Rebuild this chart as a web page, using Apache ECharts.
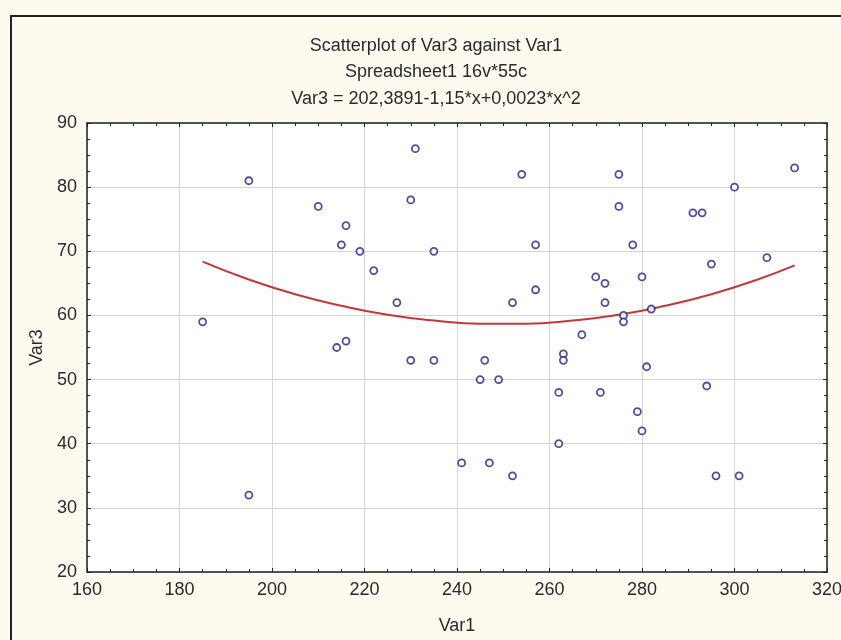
<!DOCTYPE html>
<html>
<head>
<meta charset="utf-8">
<script src="https://cdn.jsdelivr.net/npm/echarts@6/dist/echarts.min.js"></script>
<style>
html,body{margin:0;padding:0;background:#fdfbf0;}
#frame{position:absolute;left:10px;top:15px;width:840px;height:640px;border-left:2px solid #222;border-top:2px solid #222;box-sizing:border-box;}
#c{position:absolute;left:0;top:0;width:841px;height:640px;}
</style>
</head>
<body>
<div id="frame"></div>
<div id="c"></div>
<script>
// Scatter data (Var1, Var3)
const var1 = [185,195,195,210,214,215,216,216,219,222,227,230,230,231,235,235,241,245,246,247,249,252,252,254,257,257,262,262,263,263,267,270,271,272,272,275,275,276,276,278,279,280,280,281,282,291,293,294,295,296,300,301,307,313];
const var3 = [59,81,32,77,55,71,74,56,70,67,62,78,53,86,70,53,37,50,53,37,50,62,35,82,71,64,48,40,54,53,57,66,48,65,62,82,77,60,59,71,45,66,42,52,61,76,76,49,68,35,80,35,69,83];
// Fitted curve values
const fitX = [185,195,205,215,225,235,245,255,265,275,285,295,305,313];
const fitY = [68.4,65.6,63.3,61.5,60.1,59.2,58.7,58.7,59.2,60.1,61.5,63.3,65.6,67.8];
const xTicks = [160,180,200,220,240,260,280,300,320];
const yTicks = [20,30,40,50,60,70,80,90];
const titleLines = ['Scatterplot of Var3 against Var1','Spreadsheet1 16v*55c','Var3 = 202,3891-1,15*x+0,0023*x^2'];

const chart = echarts.init(document.getElementById('c'), null, {renderer:'canvas'});
const font = 'Arial, "Liberation Sans", sans-serif';
const txt = '#2a2a2a';
const baseAxis = {
  axisLine:{show:true, lineStyle:{color:'#222', width:1.5}},
  axisTick:{show:true, inside:true, length:4, lineStyle:{color:'#222'}},
  minorTick:{show:true, splitNumber:4, length:3, lineStyle:{color:'#222'}},
};
chart.setOption({
  backgroundColor:'transparent',
  animation:false,
  title: titleLines.map((t,i)=>({
    text:t, left:431, top:[32,58,85][i], textAlign:'center',
    textStyle:{fontFamily:font, fontSize:18, fontWeight:'normal', color:txt}
  })),
  grid:{left:87, right:14, top:123, bottom:68, show:true, backgroundColor:'#ffffff', borderWidth:0, outerBoundsMode:'none', containLabel:false},
  xAxis:[
    Object.assign({}, baseAxis, {
      type:'value', min:xTicks[0], max:xTicks[xTicks.length-1], interval:20, position:'bottom',
      name:'Var1', nameLocation:'middle', nameGap:45,
      nameTextStyle:{fontFamily:font, fontSize:18, color:txt},
      axisLabel:{fontFamily:font, fontSize:18, color:txt, margin:9},
      splitLine:{show:true, lineStyle:{color:'#d4d4d4', width:1}}
    }),
    Object.assign({}, baseAxis, {
      type:'value', min:xTicks[0], max:xTicks[xTicks.length-1], interval:20, position:'top',
      axisLabel:{show:false}, splitLine:{show:false}
    })
  ],
  yAxis:[
    Object.assign({}, baseAxis, {
      type:'value', min:yTicks[0], max:yTicks[yTicks.length-1], interval:10, position:'left',
      name:'Var3', nameLocation:'middle', nameGap:39, nameRotate:90,
      nameTextStyle:{fontFamily:font, fontSize:18, color:txt},
      axisLabel:{fontFamily:font, fontSize:18, color:txt, margin:10},
      splitLine:{show:true, lineStyle:{color:'#d4d4d4', width:1}}
    }),
    Object.assign({}, baseAxis, {
      type:'value', min:yTicks[0], max:yTicks[yTicks.length-1], interval:10, position:'right',
      axisLabel:{show:false}, splitLine:{show:false}
    })
  ],
  series:[
    {
      type:'line', data:fitX.map((x,i)=>[x,fitY[i]]), smooth:true, showSymbol:false,
      lineStyle:{color:'#c0393b', width:2}, z:2
    },
    {
      type:'scatter', data:var1.map((x,i)=>[x,var3[i]]), symbol:'circle', symbolSize:7,
      itemStyle:{color:'#ffffff', borderColor:'#20208a', borderWidth:1.8}, z:3
    }
  ]
});
</script>
</body>
</html>
